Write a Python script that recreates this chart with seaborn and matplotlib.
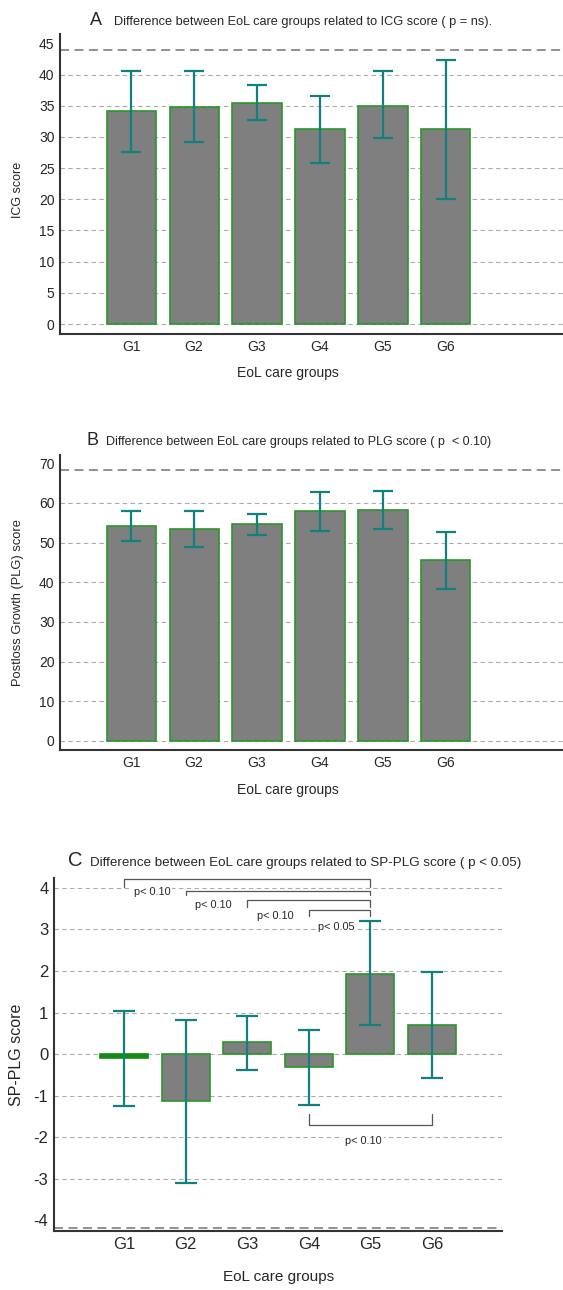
import numpy as np
import matplotlib
matplotlib.use('Agg')
import matplotlib.pyplot as plt
import seaborn as sns
from matplotlib.ticker import MultipleLocator

# ---- data ----
groups = ['G1', 'G2', 'G3', 'G4', 'G5', 'G6']

icg_mean = [34.1, 34.8, 35.5, 31.3, 35.0, 31.3]
icg_low = [27.6, 29.2, 32.7, 25.8, 29.8, 20.0]
icg_high = [40.6, 40.5, 38.4, 36.6, 40.6, 42.4]

plg_mean = [54.2, 53.4, 54.7, 58.0, 58.3, 45.6]
plg_low = [50.4, 48.9, 51.9, 53.0, 53.4, 38.2]
plg_high = [58.0, 58.0, 57.3, 62.8, 63.0, 52.7]

sp_mean = [-0.10, -1.12, 0.28, -0.30, 1.94, 0.69]
sp_low = [-1.25, -3.11, -0.38, -1.22, 0.70, -0.57]
sp_high = [1.04, 0.82, 0.92, 0.59, 3.21, 1.97]

# significance brackets in panel C: (from group, to group, label)
sp_pairs = [(0, 4, 'p< 0.10'), (1, 4, 'p< 0.10'), (2, 4, 'p< 0.10'),
            (3, 4, 'p< 0.05'), (3, 5, 'p< 0.10')]

sns.set_style('white')
plt.rcParams['font.family'] = ['Liberation Sans', 'DejaVu Sans']
plt.rcParams['axes.unicode_minus'] = False

W, H = 563, 1290
fig = plt.figure(figsize=(W / 100, H / 100), dpi=100)

BAR_FACE = '#7f7f7f'
BAR_EDGE = '#2a962a'
ERR = '#138080'
GRID = '#ababab'
SPINE = '#333333'


def box(l, t, r, b):
    return [l / W, 1 - b / H, (r - l) / W, (b - t) / H]


def panel(rect, mean, low, high, xlim, ylim, major, minor, grid_vals, ref,
          cap, fs, xfs):
    ax = fig.add_axes(rect)
    sns.barplot(x=groups, y=mean, color=BAR_FACE, saturation=1, width=0.78,
                edgecolor=BAR_EDGE, linewidth=1.2, ax=ax, zorder=2)
    # very flat bars end up looking like a solid green stroke
    for p in ax.patches:
        if abs(p.get_height()) < 0.15:
            p.set_facecolor('#138a13')
            p.set_edgecolor('#138a13')
    mean = np.array(mean)
    yerr = [mean - np.array(low), np.array(high) - mean]
    ax.errorbar(np.arange(len(groups)), mean, yerr=yerr, fmt='none',
                ecolor=ERR, elinewidth=1.6, capsize=cap, capthick=1.6, zorder=3)
    for g in grid_vals:
        ax.axhline(g, color=GRID, lw=0.8, ls=(0, (4, 3)), zorder=0)
    ax.axhline(ref, color='#888888', lw=1.3, ls=(0, (5, 3)), zorder=1)
    ax.set_xlim(*xlim)
    ax.set_ylim(*ylim)
    ax.yaxis.set_major_locator(MultipleLocator(major))
    if minor:
        ax.yaxis.set_minor_locator(MultipleLocator(minor))
    for s in ['top', 'right']:
        ax.spines[s].set_visible(False)
    for s in ['left', 'bottom']:
        ax.spines[s].set_color(SPINE)
        ax.spines[s].set_linewidth(1.5)
    ax.tick_params(axis='both', which='major', direction='in', length=6,
                   width=1.2, color=SPINE, labelsize=fs, pad=4)
    ax.tick_params(axis='y', which='minor', direction='in', length=3,
                   width=0.8, color=SPINE)
    ax.set_xlabel('EoL care groups', fontsize=xfs)
    return ax


# ---- panel A ----
axA = panel(box(60, 34, 563, 334), icg_mean, icg_low, icg_high,
            (-1.13, 6.86), (-1.6, 46.5), 5, None, np.arange(0, 45, 5), 44,
            7, 10, 10)
axA.set_ylabel('ICG score', fontsize=9)
axA.xaxis.set_label_coords(0.454, -0.108)
axA.yaxis.set_label_coords(-0.072, 0.48)
fig.text(90 / W, 1 - 25 / H, 'A', fontsize=13, va='baseline')
fig.text(114 / W, 1 - 25 / H,
         'Difference between EoL care groups related to ICG score ( p = ns).',
         fontsize=9.2, va='baseline')

# ---- panel B ----
axB = panel(box(60, 455, 563, 750), plg_mean, plg_low, plg_high,
            (-1.13, 6.86), (-2.3, 72.1), 10, 5, np.arange(0, 70, 10), 68.4,
            7, 10, 10)
axB.set_ylabel('Postloss Growth (PLG) score', fontsize=9.3)
axB.xaxis.set_label_coords(0.454, -0.112)
axB.yaxis.set_label_coords(-0.072, 0.5)
fig.text(87 / W, 1 - 445 / H, 'B', fontsize=13, va='baseline')
fig.text(106 / W, 1 - 445 / H,
         'Difference between EoL care groups related to PLG score ( p  < 0.10)',
         fontsize=9.0, va='baseline')

# ---- panel C ----
axC = panel(box(54, 878, 502, 1231), sp_mean, sp_low, sp_high,
            (-1.14, 6.14), (-4.26, 4.24), 1, 0.5, np.arange(-3, 5, 1), -4.18,
            8, 12, 11)
axC.set_ylabel('SP-PLG score', fontsize=11.5)
axC.xaxis.set_label_coords(0.502, -0.11)
axC.yaxis.set_label_coords(-0.068, 0.5)
fig.text(68 / W, 1 - 866 / H, 'C', fontsize=14.5, va='baseline')
fig.text(90 / W, 1 - 866 / H,
         'Difference between EoL care groups related to SP-PLG score ( p < 0.05)',
         fontsize=9.6, va='baseline')

# brackets: upper ones open downward, lower one opens upward
upper = [(4.22, 4.02, 3.90), (3.93, 3.82, 3.60), (3.71, 3.54, 3.33), (3.46, 3.32, 3.07)]
for (a, b, lab), (yb, yleg, ylab) in zip(sp_pairs[:4], upper):
    axC.plot([a, a, b, b], [yleg, yb, yb, yleg], color='#555555', lw=0.9, zorder=4)
    axC.text(a + 0.45, ylab, lab, fontsize=7.8, ha='center', va='center',
             bbox=dict(facecolor='white', edgecolor='none', pad=1.5), zorder=4)
a, b, lab = sp_pairs[4]
axC.plot([a, a, b, b], [-1.44, -1.71, -1.71, -1.44], color='#555555', lw=0.9, zorder=4)
axC.text((a + b) / 2 - 0.11, -2.1, lab, fontsize=7.8, ha='center', va='center',
         bbox=dict(facecolor='white', edgecolor='none', pad=1.5), zorder=4)

fig.savefig('out.png', dpi=100)
